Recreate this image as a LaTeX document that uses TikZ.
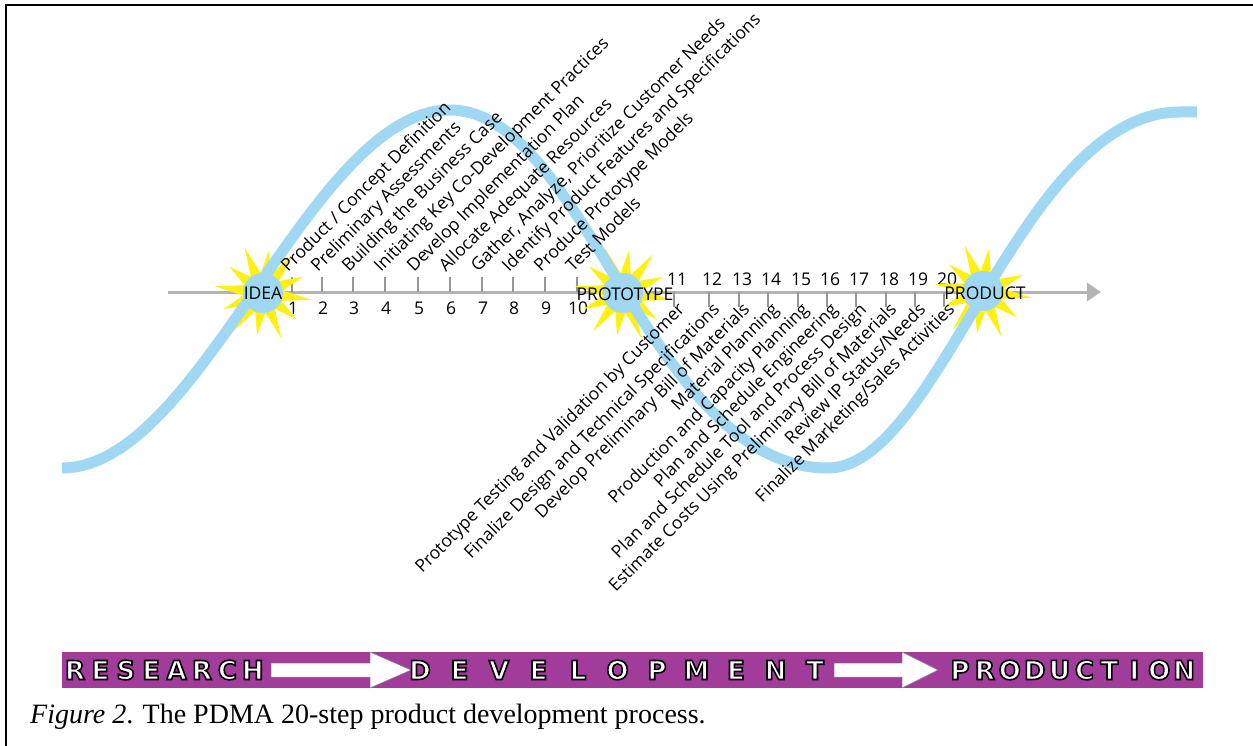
\documentclass[tikz,border=0pt]{standalone}
\usepackage{fontspec}
\setmainfont{Liberation Serif}
\newfontfamily\stepfont{Open Sans}
\newfontfamily\barfont{DejaVu Sans}
\usetikzlibrary{arrows.meta}

\definecolor{curveblue}{RGB}{160,215,242}
\definecolor{sunyellow}{RGB}{255,240,20}
\definecolor{axisgray}{RGB}{180,180,180}
\definecolor{tickgray}{RGB}{150,150,150}
\definecolor{barpurple}{RGB}{162,60,155}

\tikzset{
  every node/.style={inner sep=0pt},
  steptext/.style={font=\stepfont\fontsize{17.5}{18}\selectfont},
  stepup/.style={steptext, rotate=45, anchor=base west},
  stepdown/.style={steptext, rotate=45, anchor=north east},
  stagename/.style={steptext},
  tickmark/.style={tickgray, line width=1.4},
  barletter/.style={font=\barfont\bfseries\fontsize{26}{26}\selectfont, text=white},
  burst/.pic={
    \fill[sunyellow] plot[samples at={0,...,23}, variable=\k]
      ({(33+13*cos(180*\k)+3*cos(90*\k))*cos(15*\k+8)},
       {(33+13*cos(180*\k)+3*cos(90*\k))*sin(15*\k+8)}) -- cycle;
    \fill[curveblue] (0,0) circle (20);
  }
}

% white capitals with a black outline (stroke + fill)
\newcommand\outlined[1]{\special{pdf:literal direct 0 G 2 Tr 1.6 w}#1\special{pdf:literal direct 0 Tr}}
\newcommand\barword[4]{%
  \foreach \barch [count=\i from 0] in {#2}
    \node[barletter] (#1\i) at ({#3+#4*\i}, 670) {\outlined{\barch}};
}

\begin{document}
\begin{tikzpicture}[x=1pt, y=-1pt]
  \useasboundingbox (0,0) rectangle (1253,746);
  % frame
  \draw[line width=2.5] (6,746) -- (6,5) -- (1253,5);

  % time line
  \coordinate (axisstart) at (168,292);
  \coordinate (axisend) at (1101,292);
  \draw[axisgray, line width=3, -{Triangle[length=14pt, width=18pt]}] (axisstart) -- (axisend);

  % ticks and numbers 1-10 (above) and 11-20 (below)
  \foreach \x [count=\i] in {292,322,353,385,418,450,482,513,545,577} {
    \draw[tickmark] (\x,292) -- (\x,277);
    \node[steptext] (num\i) at (\x+1,308) {\i};
  }
  \foreach \x [count=\i from 11] in {674,709,739,768,798,827,856,886,915,944} {
    \draw[tickmark] (\x,292) -- (\x,307);
    \node[steptext] (num\i) at (\x+3,279) {\i};
  }

  % stages and the s-curve
  \pic at (263,293) {burst};
  \pic at (623,293) {burst};
  \pic at (983,291) {burst};
  \draw[curveblue, line width=11] (62,468) .. controls (202,468) and (310,110) .. (450,110)
    .. controls (585,110) and (650,468) .. (828,468)
    .. controls (940,468) and (1020,112) .. (1180,112) -- (1197,112);
  \node[stagename] (idea) at (263,293) {IDEA};
  \node[stagename] (prototype) at (625,294) {PROTOTYPE};
  \node[stagename] (product) at (985,293) {PRODUCT};

  % step texts
  \foreach \x/\t [count=\i] in {292/{Product / Concept Definition}, 322/{Preliminary Assessments},
      353/{Building the Business Case}, 385/{Initiating Key Co-Development Practices},
      418/{Develop Implementation Plan}, 450/{Allocate Adequate Resources},
      482/{Gather, Analyze, Prioritize Customer Needs}, 513/{Identify Product Features and Specifications},
      545/{Produce Prototype Models}, 577/{Test Models}}
    \node[stepup] (step\i) at (\x-4,273) {\t};
  \foreach \x/\t [count=\i from 11] in {674/{Prototype Testing and Validation by Customer},
      709/{Finalize Design and Technical Specifications}, 739/{Develop Preliminary Bill of Materials},
      768/{Material Planning}, 798/{Production and Capacity Planning},
      827/{Plan and Schedule Engineering}, 856/{Plan and Schedule Tool and Process Design},
      886/{Estimate Costs Using Preliminary Bill of Materials}, 915/{Review IP Status/Needs},
      944/{Finalize Marketing/Sales Activities}}
    \node[stepdown] (step\i) at (\x+2,301) {\t};

  % phase bar
  \fill[barpurple] (62,652) rectangle (1203,688);
  \filldraw[white, draw=black!50, line width=0.5] (271,663) -- (370,663) -- (370,652) -- (411,670)
    -- (370,688) -- (370,677) -- (271,677) -- cycle;
  \filldraw[white, draw=black!50, line width=0.5] (834,663) -- (902,663) -- (902,652) -- (938,670)
    -- (902,688) -- (902,677) -- (834,677) -- cycle;
  \barword{res}{R,E,S,E,A,R,C,H}{75}{25.4}
  \barword{dev}{D,E,V,E,L,O,P,M,E,N,T}{420}{39.5}
  \barword{pro}{P,R,O,D,U,C,T,I,O,N}{960}{24.9}

  % caption
  \node[anchor=base west, font=\fontsize{28}{30}\selectfont] (caption) at (30,723)
    {\textit{Figure 2}. The PDMA 20-step product development process.};
\end{tikzpicture}
\end{document}
